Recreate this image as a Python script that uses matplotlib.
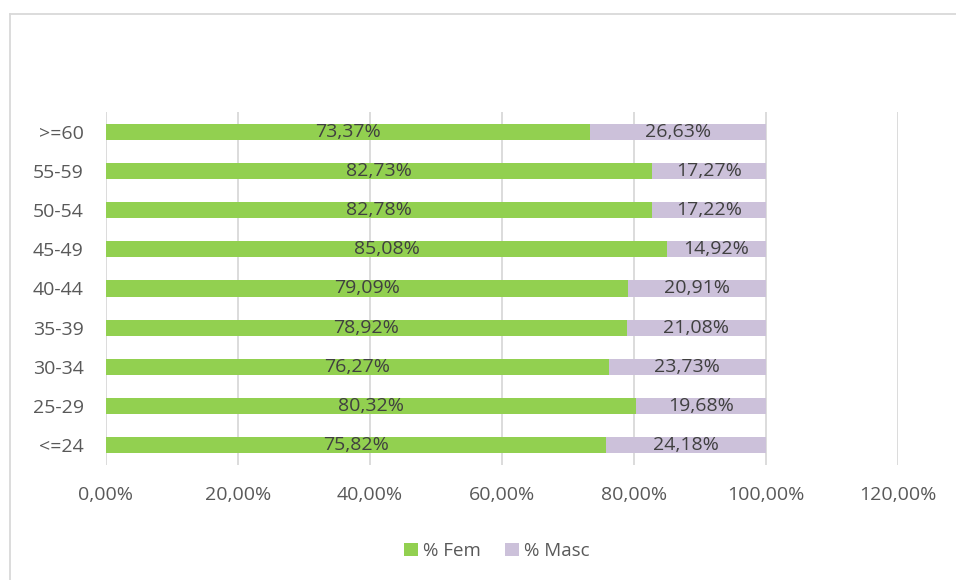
import matplotlib
matplotlib.use("Agg")
import matplotlib.pyplot as plt
from matplotlib.lines import Line2D
from matplotlib.ticker import FuncFormatter

# === Data (top to bottom as shown) ===
age_groups = [">=60", "55-59", "50-54", "45-49", "40-44", "35-39", "30-34", "25-29", "<=24"]
pct_fem = [73.37, 82.73, 82.78, 85.08, 79.09, 78.92, 76.27, 80.32, 75.82]
pct_masc = [26.63, 17.27, 17.22, 14.92, 20.91, 21.08, 23.73, 19.68, 24.18]
x_ticks = [0, 20, 40, 60, 80, 100, 120]

green = "#92D050"
lilac = "#CCC1DA"
txt = "#404040"
grid_c = "#D9D9D9"

plt.rcParams['font.family'] = ['Open Sans', 'DejaVu Sans']

fig = plt.figure(figsize=(9.56, 5.8), dpi=100)
ax = fig.add_axes([0.1106, 0.1983, 0.8284, 0.6086])

# reverse so first category sits at the top
cats = age_groups[::-1]
fem = pct_fem[::-1]
masc = pct_masc[::-1]
y = list(range(len(cats)))

b1 = ax.barh(y, fem, height=0.41, color=green, label="% Fem", zorder=2)
b2 = ax.barh(y, masc, left=fem, height=0.41, color=lilac, label="% Masc", zorder=2)

def fmt(v):
    return f"{v:.2f}%".replace(".", ",")

for bars, vals in ((b1, fem), (b2, masc)):
    ax.bar_label(bars, labels=[fmt(v) for v in vals], label_type="center",
                 color=txt, fontsize=14, zorder=3)

ax.set_xlim(0, 120)
ax.set_ylim(-0.5, len(cats) - 0.5)
ax.set_xticks(x_ticks)
ax.xaxis.set_major_formatter(FuncFormatter(lambda v, p: fmt(v)))
ax.set_yticks(y)
ax.set_yticklabels(cats)
ax.tick_params(axis="both", length=0, colors="#595959", labelsize=14)
ax.tick_params(axis="x", pad=15)
ax.tick_params(axis="y", pad=16)
ax.grid(axis="x", color=grid_c, linewidth=1.3, zorder=0)
for s in ax.spines.values():
    s.set_visible(False)

fig.legend(handles=[b1, b2], loc="center", bbox_to_anchor=(0.52, 0.05), ncol=2,
           frameon=False, fontsize=13.5, labelcolor="#595959",
           handlelength=0.7, handleheight=0.7, handletextpad=0.3, columnspacing=1.3)

# outer chart border (only left and top edges visible)
fig.add_artist(Line2D([9.5 / 956, 9.5 / 956], [0, 1 - 13.5 / 580], color=grid_c,
                      linewidth=1.3, transform=fig.transFigure))
fig.add_artist(Line2D([9.5 / 956, 1], [1 - 13.5 / 580, 1 - 13.5 / 580], color=grid_c,
                      linewidth=1.3, transform=fig.transFigure))

fig.savefig("out.png", dpi=100)
